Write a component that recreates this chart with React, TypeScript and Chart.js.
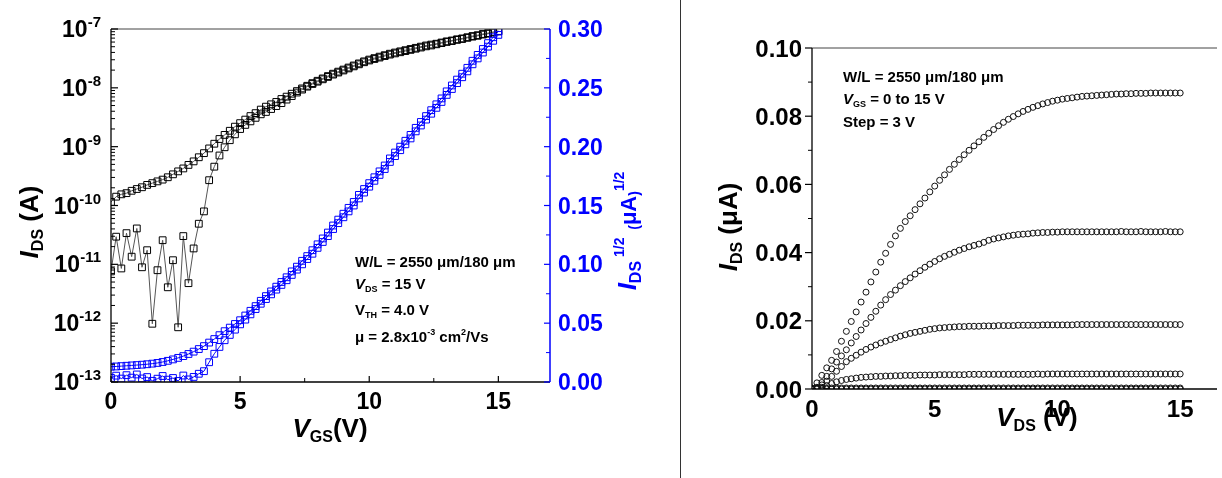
import React, { useEffect, useRef } from "react";
import { Chart, registerables } from "chart.js";

Chart.register(...registerables);

const FAMILY = '"Liberation Sans", Arial, Helvetica, sans-serif';
const BLUE = "#0000ff";

// ---------------- Transfer curve (left panel) ----------------
const vgs = [
  0, 0.2, 0.4, 0.6, 0.8, 1, 1.2, 1.4, 1.6, 1.8,
  2, 2.2, 2.4, 2.6, 2.8, 3, 3.2, 3.4, 3.6, 3.8,
  4, 4.2, 4.4, 4.6, 4.8, 5, 5.2, 5.4, 5.6, 5.8,
  6, 6.2, 6.4, 6.6, 6.8, 7, 7.2, 7.4, 7.6, 7.8,
  8, 8.2, 8.4, 8.6, 8.8, 9, 9.2, 9.4, 9.6, 9.8,
  10, 10.2, 10.4, 10.6, 10.8, 11, 11.2, 11.4, 11.6, 11.8,
  12, 12.2, 12.4, 12.6, 12.8, 13, 13.2, 13.4, 13.6, 13.8,
  14, 14.2, 14.4, 14.6, 14.8, 15,
];

// log10(I_DS / A), upper (smooth) branch
const logIdsForward = [
  -9.94, -9.85, -9.81, -9.79, -9.75, -9.72, -9.69, -9.65, -9.62, -9.59,
  -9.56, -9.52, -9.47, -9.42, -9.37, -9.31, -9.25, -9.18, -9.11, -9.03,
  -8.95, -8.87, -8.8, -8.73, -8.66, -8.6, -8.54, -8.48, -8.43, -8.37,
  -8.32, -8.28, -8.24, -8.19, -8.15, -8.1, -8.055, -8.01, -7.965, -7.92,
  -7.88, -7.84, -7.8, -7.76, -7.725, -7.69, -7.655, -7.62, -7.585, -7.55,
  -7.52, -7.495, -7.47, -7.445, -7.42, -7.4, -7.38, -7.36, -7.34, -7.32,
  -7.3, -7.28, -7.265, -7.25, -7.23, -7.21, -7.195, -7.175, -7.16, -7.14,
  -7.12, -7.105, -7.085, -7.07, -7.05, -7.035,
];

// log10(I_DS / A), lower (noisy) branch
const logIdsReverse = [
  -11.12, -10.53, -11.07, -10.47, -10.87, -10.39, -11.05, -10.76, -12.01, -11.1,
  -10.59, -11.39, -10.93, -12.07, -10.52, -11.32, -10.73, -10.31, -10.1, -9.57,
  -9.34, -9.15, -9.01, -8.89, -8.79, -8.7, -8.63, -8.57, -8.51, -8.45,
  -8.41, -8.36, -8.31, -8.26, -8.2, -8.14, -8.08, -8.03, -7.98, -7.935,
  -7.895, -7.855, -7.815, -7.775, -7.74, -7.705, -7.67, -7.635, -7.6, -7.565,
  -7.535, -7.51, -7.485, -7.46, -7.435, -7.415, -7.395, -7.375, -7.355, -7.335,
  -7.315, -7.295, -7.28, -7.26, -7.24, -7.22, -7.205, -7.185, -7.17, -7.15,
  -7.13, -7.115, -7.095, -7.08, -7.06, -7.04,
];

// I_DS^(1/2) in uA^(1/2)
const sqrtIdsForward = [
  0.013, 0.0132, 0.0135, 0.0138, 0.0141, 0.0144, 0.0147, 0.0151, 0.0156, 0.0162,
  0.017, 0.018, 0.0192, 0.0205, 0.022, 0.0238, 0.0258, 0.028, 0.0305, 0.0335,
  0.0365, 0.0398, 0.0432, 0.0462, 0.0493, 0.0525, 0.0565, 0.0605, 0.0645, 0.069,
  0.073, 0.077, 0.081, 0.085, 0.089, 0.094, 0.098, 0.103, 0.107, 0.112,
  0.117, 0.122, 0.127, 0.133, 0.138, 0.143, 0.148, 0.153, 0.159, 0.164,
  0.169, 0.174, 0.179, 0.184, 0.19, 0.195, 0.2, 0.205, 0.21, 0.216,
  0.221, 0.226, 0.231, 0.236, 0.241, 0.247, 0.252, 0.257, 0.262, 0.267,
  0.273, 0.278, 0.283, 0.288, 0.293, 0.298,
];

const sqrtIdsReverse = [
  0.0035, 0.0054, 0.0029, 0.0058, 0.0037, 0.0064, 0.003, 0.0042, 0.001, 0.0028,
  0.0051, 0.002, 0.0034, 0.0009, 0.0055, 0.0022, 0.0043, 0.007, 0.0092, 0.0168,
  0.024, 0.0298, 0.0355, 0.04, 0.0445, 0.049, 0.053, 0.0575, 0.062, 0.0665,
  0.0705, 0.0745, 0.0785, 0.0825, 0.0865, 0.091, 0.0955, 0.1, 0.1045, 0.109,
  0.114, 0.119, 0.124, 0.13, 0.135, 0.14, 0.145, 0.15, 0.156, 0.161,
  0.166, 0.171, 0.176, 0.181, 0.187, 0.192, 0.197, 0.202, 0.207, 0.213,
  0.218, 0.223, 0.228, 0.233, 0.238, 0.244, 0.249, 0.254, 0.259, 0.264,
  0.27, 0.275, 0.28, 0.285, 0.29, 0.295,
];

const logTickPowers = [-13, -12, -11, -10, -9, -8, -7];
const vgsTicks = [0, 5, 10, 15];
const vgsMinorTicks = [2.5, 7.5, 12.5];
const sqrtTicks = [0, 0.05, 0.1, 0.15, 0.2, 0.25, 0.3];
const sqrtTickLabels = ["0.00", "0.05", "0.10", "0.15", "0.20", "0.25", "0.30"];
const sqrtMinorTicks = [0.025, 0.075, 0.125, 0.175, 0.225, 0.275];

// ---------------- Output curves (right panel) ----------------
const vds = [
  0, 0.2, 0.4, 0.6, 0.8, 1, 1.2, 1.4, 1.6, 1.8,
  2, 2.2, 2.4, 2.6, 2.8, 3, 3.2, 3.4, 3.6, 3.8,
  4, 4.2, 4.4, 4.6, 4.8, 5, 5.2, 5.4, 5.6, 5.8,
  6, 6.2, 6.4, 6.6, 6.8, 7, 7.2, 7.4, 7.6, 7.8,
  8, 8.2, 8.4, 8.6, 8.8, 9, 9.2, 9.4, 9.6, 9.8,
  10, 10.2, 10.4, 10.6, 10.8, 11, 11.2, 11.4, 11.6, 11.8,
  12, 12.2, 12.4, 12.6, 12.8, 13, 13.2, 13.4, 13.6, 13.8,
  14, 14.2, 14.4, 14.6, 14.8, 15,
];

const ids15 = [
  0.0003, 0.0018, 0.004, 0.0062, 0.0084, 0.011, 0.014, 0.0169, 0.0198, 0.0226,
  0.0255, 0.0284, 0.0314, 0.0343, 0.0372, 0.0398, 0.0424, 0.0449, 0.0471, 0.0491,
  0.0508, 0.0526, 0.0543, 0.056, 0.0578, 0.0595, 0.0612, 0.0628, 0.0644, 0.0659,
  0.0673, 0.0687, 0.07, 0.0713, 0.0725, 0.0738, 0.075, 0.0761, 0.0772, 0.0782,
  0.0791, 0.0799, 0.0807, 0.0814, 0.082, 0.0826, 0.0831, 0.0836, 0.084, 0.0844,
  0.0847, 0.085, 0.0852, 0.0854, 0.0856, 0.0858, 0.0859, 0.086, 0.0861, 0.0862,
  0.0863, 0.0864, 0.0865, 0.0865, 0.0866, 0.0866, 0.0867, 0.0867, 0.0867, 0.0868,
  0.0868, 0.0868, 0.0868, 0.0868, 0.0868, 0.0868,
];

const ids12 = [
  0.0001, 0.0005, 0.0019, 0.0037, 0.0059, 0.0079, 0.0097, 0.0115, 0.0135, 0.0154,
  0.0173, 0.0192, 0.021, 0.0228, 0.0246, 0.0262, 0.0277, 0.029, 0.0303, 0.0315,
  0.0326, 0.0337, 0.0347, 0.0357, 0.0366, 0.0374, 0.0382, 0.0389, 0.0395, 0.0401,
  0.0407, 0.0412, 0.0417, 0.0421, 0.0425, 0.043, 0.0436, 0.044, 0.0443, 0.0446,
  0.0449, 0.0451, 0.0453, 0.0454, 0.0455, 0.0457, 0.0458, 0.0459, 0.0459, 0.046,
  0.046, 0.0461, 0.0461, 0.0461, 0.0461, 0.0461, 0.0461, 0.0461, 0.0461, 0.0461,
  0.0461, 0.0461, 0.0461, 0.0462, 0.0461, 0.0461, 0.0461, 0.0462, 0.0461, 0.0461,
  0.0461, 0.0461, 0.0462, 0.0461, 0.0461, 0.0461,
];

const ids9 = [
  0.0, 0.0003, 0.0012, 0.0023, 0.0037, 0.0052, 0.0066, 0.008, 0.009, 0.0099,
  0.0108, 0.0116, 0.0123, 0.0129, 0.0135, 0.014, 0.0145, 0.015, 0.0155, 0.0159,
  0.0163, 0.0166, 0.0169, 0.0172, 0.0175, 0.0177, 0.0179, 0.018, 0.0181, 0.0182,
  0.0183, 0.0183, 0.0184, 0.0184, 0.0184, 0.0185, 0.0185, 0.0185, 0.0186, 0.0186,
  0.0186, 0.0186, 0.0187, 0.0187, 0.0187, 0.0187, 0.0187, 0.0188, 0.0188, 0.0188,
  0.0188, 0.0188, 0.0188, 0.0188, 0.0189, 0.0189, 0.0189, 0.0189, 0.0189, 0.0189,
  0.0189, 0.0189, 0.0189, 0.0189, 0.0189, 0.0189, 0.0189, 0.0189, 0.0189, 0.0189,
  0.0189, 0.0189, 0.0189, 0.0189, 0.0189, 0.0189,
];

const ids6 = [
  0.0, 0.0002, 0.0005, 0.001, 0.0016, 0.0021, 0.0025, 0.0028, 0.003, 0.0032,
  0.0034, 0.0035, 0.0036, 0.0037, 0.0037, 0.0038, 0.0038, 0.0039, 0.0039, 0.004,
  0.004, 0.004, 0.0041, 0.0041, 0.0041, 0.0041, 0.0042, 0.0042, 0.0042, 0.0042,
  0.0042, 0.0042, 0.0043, 0.0043, 0.0043, 0.0043, 0.0043, 0.0043, 0.0043, 0.0043,
  0.0043, 0.0043, 0.0043, 0.0043, 0.0043, 0.0043, 0.0044, 0.0043, 0.0044, 0.0044,
  0.0044, 0.0044, 0.0044, 0.0044, 0.0044, 0.0044, 0.0044, 0.0044, 0.0044, 0.0044,
  0.0044, 0.0044, 0.0044, 0.0044, 0.0044, 0.0044, 0.0044, 0.0044, 0.0044, 0.0044,
  0.0044, 0.0044, 0.0044, 0.0044, 0.0044, 0.0044,
];

const ids3 = [
  0.0, 0.0001, 0.0002, 0.0002, 0.0003, 0.0003, 0.0003, 0.0003, 0.0003, 0.0003,
  0.0003, 0.0003, 0.0003, 0.0003, 0.0003, 0.0003, 0.0003, 0.0003, 0.0003, 0.0003,
  0.0003, 0.0003, 0.0003, 0.0003, 0.0003, 0.0003, 0.0003, 0.0003, 0.0003, 0.0003,
  0.0003, 0.0003, 0.0003, 0.0003, 0.0003, 0.0003, 0.0003, 0.0003, 0.0003, 0.0003,
  0.0003, 0.0003, 0.0003, 0.0003, 0.0003, 0.0003, 0.0003, 0.0003, 0.0003, 0.0003,
  0.0003, 0.0003, 0.0003, 0.0003, 0.0003, 0.0003, 0.0003, 0.0003, 0.0003, 0.0003,
  0.0003, 0.0003, 0.0003, 0.0003, 0.0003, 0.0003, 0.0003, 0.0003, 0.0003, 0.0003,
  0.0003, 0.0003, 0.0003, 0.0003, 0.0003, 0.0003,
];

const ids0 = [
  0, 0, 0, 0, 0, 0, 0, 0, 0, 0,
  0, 0, 0, 0, 0, 0, 0, 0, 0, 0,
  0, 0, 0, 0, 0, 0, 0, 0, 0, 0,
  0, 0, 0, 0, 0, 0, 0, 0, 0, 0,
  0, 0, 0, 0, 0, 0, 0, 0, 0, 0,
  0, 0, 0, 0, 0, 0, 0, 0, 0, 0,
  0, 0, 0, 0, 0, 0, 0, 0, 0, 0,
  0, 0, 0, 0, 0, 0,
];

const outTicks = [0, 0.02, 0.04, 0.06, 0.08, 0.1];
const outTickLabels = ["0.00", "0.02", "0.04", "0.06", "0.08", "0.10"];
const outMinorTicks = [0.01, 0.03, 0.05, 0.07, 0.09];
const vdsTicks = [0, 5, 10, 15];

// ---------------- drawing helpers ----------------
type Seg = { t: string; size: number; italic?: boolean; dy?: number };

function segFont(s: Seg) {
  return `${s.italic ? "italic " : ""}bold ${s.size}px ${FAMILY}`;
}

function drawSegs(
  ctx: CanvasRenderingContext2D,
  segs: Seg[],
  x: number,
  y: number,
  align: "left" | "center" | "right",
  color: string
) {
  ctx.save();
  ctx.fillStyle = color;
  ctx.textBaseline = "alphabetic";
  ctx.textAlign = "left";
  let w = 0;
  for (const s of segs) {
    ctx.font = segFont(s);
    w += ctx.measureText(s.t).width;
  }
  let cx = align === "center" ? x - w / 2 : align === "right" ? x - w : x;
  for (const s of segs) {
    ctx.font = segFont(s);
    ctx.fillText(s.t, cx, y + (s.dy || 0));
    cx += ctx.measureText(s.t).width;
  }
  ctx.restore();
}

function drawSegsRotated(
  ctx: CanvasRenderingContext2D,
  segs: Seg[],
  baselineX: number,
  centerY: number,
  color: string
) {
  ctx.save();
  ctx.translate(baselineX, centerY);
  ctx.rotate(-Math.PI / 2);
  drawSegs(ctx, segs, 0, 0, "center", color);
  ctx.restore();
}

function seg(
  ctx: CanvasRenderingContext2D,
  x1: number,
  y1: number,
  x2: number,
  y2: number,
  color: string,
  width: number
) {
  ctx.save();
  ctx.strokeStyle = color;
  ctx.lineWidth = width;
  ctx.beginPath();
  ctx.moveTo(x1, y1);
  ctx.lineTo(x2, y2);
  ctx.stroke();
  ctx.restore();
}

// ---------------- plugins ----------------
const transferDecor = {
  id: "transferDecor",
  afterDatasetsDraw(chart: any) {
    const { ctx, chartArea: a, scales } = chart;
    const xs = scales.x;
    const yl = scales.yLog;
    const ys = scales.ySqrt;

    seg(ctx, a.left, a.top, a.right, a.top, "#444", 1);
    seg(ctx, a.left, a.bottom, a.right, a.bottom, "#000", 1.3);
    seg(ctx, a.left, a.top, a.left, a.bottom, "#000", 1.3);
    seg(ctx, a.right, a.top, a.right, a.bottom, BLUE, 1.5);

    // log axis ticks + labels
    logTickPowers.forEach((p) => {
      const y = yl.getPixelForValue(Math.pow(10, p));
      seg(ctx, a.left, y, a.left + 7, y, "#000", 1.2);
      if (p < -7) {
        for (let m = 2; m <= 9; m++) {
          const ym = yl.getPixelForValue(m * Math.pow(10, p));
          seg(ctx, a.left, ym, a.left + 4, ym, "#000", 1);
        }
      }
      drawSegs(
        ctx,
        [
          { t: "10", size: 23 },
          { t: String(p), size: 15, dy: -10 },
        ],
        a.left - 10,
        y + 8,
        "right",
        "#000"
      );
    });

    // x axis ticks + labels
    vgsTicks.forEach((v) => {
      const x = xs.getPixelForValue(v);
      seg(ctx, x, a.bottom, x, a.bottom - 6, "#000", 1.2);
      drawSegs(ctx, [{ t: String(v), size: 23 }], x, 409, "center", "#000");
    });
    vgsMinorTicks.forEach((v) => {
      const x = xs.getPixelForValue(v);
      seg(ctx, x, a.bottom, x, a.bottom - 4, "#000", 1);
    });

    // right blue axis
    sqrtTicks.forEach((v, i) => {
      const y = ys.getPixelForValue(v);
      seg(ctx, a.right, y, a.right - 6, y, BLUE, 1.2);
      drawSegs(ctx, [{ t: sqrtTickLabels[i], size: 23 }], a.right + 8, y + 8, "left", BLUE);
    });
    sqrtMinorTicks.forEach((v) => {
      const y = ys.getPixelForValue(v);
      seg(ctx, a.right, y, a.right - 4, y, BLUE, 1);
    });

    // axis titles
    drawSegsRotated(
      ctx,
      [
        { t: "I", size: 26, italic: true },
        { t: "DS", size: 16, dy: 5 },
        { t: " (A)", size: 26 },
      ],
      38,
      222,
      "#000"
    );
    drawSegs(
      ctx,
      [
        { t: "V", size: 26, italic: true },
        { t: "GS", size: 16, dy: 5 },
        { t: "(V)", size: 26 },
      ],
      330,
      437,
      "center",
      "#000"
    );
    drawSegsRotated(
      ctx,
      [
        { t: "I", size: 26, italic: true },
        { t: "DS", size: 16, dy: 5 },
        { t: " 1/2", size: 14, dy: -12 },
        { t: "  ", size: 14 },
        { t: "(", size: 14, dy: 3 },
        { t: "\u03bcA", size: 22 },
        { t: ")", size: 14, dy: 3 },
        { t: "1/2", size: 14, dy: -12 },
      ],
      636,
      231,
      BLUE
    );

    // annotations
    const ax = 355;
    drawSegs(ctx, [{ t: "W/L = 2550 \u03bcm/180 \u03bcm", size: 15 }], ax, 266.5, "left", "#000");
    drawSegs(
      ctx,
      [
        { t: "V", size: 15, italic: true },
        { t: "DS", size: 9, dy: 3 },
        { t: " = 15 V", size: 15 },
      ],
      ax,
      288.5,
      "left",
      "#000"
    );
    drawSegs(
      ctx,
      [
        { t: "V", size: 15 },
        { t: "TH", size: 9, dy: 3 },
        { t: " = 4.0 V", size: 15 },
      ],
      ax,
      315,
      "left",
      "#000"
    );
    drawSegs(
      ctx,
      [
        { t: "\u03bc = 2.8x10", size: 15 },
        { t: "-3", size: 9, dy: -7 },
        { t: " cm", size: 15 },
        { t: "2", size: 9, dy: -7 },
        { t: "/Vs", size: 15 },
      ],
      ax,
      341.5,
      "left",
      "#000"
    );
  },
};

const outputDecor = {
  id: "outputDecor",
  afterDatasetsDraw(chart: any) {
    const { ctx, chartArea: a, scales } = chart;
    const xs = scales.x;
    const ys = scales.y;

    seg(ctx, a.left, a.top, a.right, a.top, "#444", 1);
    seg(ctx, a.left, a.bottom, a.right, a.bottom, "#000", 1.3);
    seg(ctx, a.left, a.top, a.left, a.bottom, "#000", 1.3);

    outTicks.forEach((v, i) => {
      const y = ys.getPixelForValue(v);
      seg(ctx, a.left - 7, y, a.left, y, "#000", 1.2);
      drawSegs(ctx, [{ t: outTickLabels[i], size: 24 }], a.left - 10, y + 8.5, "right", "#000");
    });
    outMinorTicks.forEach((v) => {
      const y = ys.getPixelForValue(v);
      seg(ctx, a.left - 4, y, a.left, y, "#000", 1);
    });
    vdsTicks.forEach((v) => {
      const x = xs.getPixelForValue(v);
      drawSegs(ctx, [{ t: String(v), size: 24 }], x, 417, "center", "#000");
    });

    drawSegsRotated(
      ctx,
      [
        { t: "I", size: 26, italic: true },
        { t: "DS", size: 16, dy: 5 },
        { t: " (\u03bcA)", size: 26 },
      ],
      55,
      227,
      "#000"
    );
    drawSegs(
      ctx,
      [
        { t: "V", size: 26, italic: true },
        { t: "DS", size: 16, dy: 5 },
        { t: " (V)", size: 26 },
      ],
      355,
      426,
      "center",
      "#000"
    );

    const ax = 161;
    drawSegs(ctx, [{ t: "W/L = 2550 \u03bcm/180 \u03bcm", size: 15 }], ax, 81.5, "left", "#000");
    drawSegs(
      ctx,
      [
        { t: "V", size: 15, italic: true },
        { t: "GS", size: 9, dy: 3 },
        { t: " = 0 to 15 V", size: 15 },
      ],
      ax,
      103.5,
      "left",
      "#000"
    );
    drawSegs(ctx, [{ t: "Step = 3 V", size: 15 }], ax, 126.5, "left", "#000");
  },
};

// ---------------- chart configs ----------------
function pts(xs: number[], ys: number[], f?: (v: number) => number) {
  return xs.map((x, i) => ({ x, y: f ? f(ys[i]) : ys[i] }));
}

function transferConfig(): any {
  const black = {
    showLine: true,
    borderColor: "#555",
    borderWidth: 1,
    pointStyle: "rect",
    pointRadius: 4.8,
    pointBorderColor: "#000",
    pointBackgroundColor: "rgba(255,255,255,0)",
    pointBorderWidth: 1,
    yAxisID: "yLog",
  };
  const blue = {
    showLine: true,
    borderColor: BLUE,
    borderWidth: 1,
    pointStyle: "rect",
    pointRadius: 4.8,
    pointBorderColor: BLUE,
    pointBackgroundColor: "rgba(255,255,255,0)",
    pointBorderWidth: 1,
    yAxisID: "ySqrt",
  };
  return {
    type: "scatter",
    data: {
      datasets: [
        { ...blue, label: "sqrt fwd", data: pts(vgs, sqrtIdsForward) },
        { ...blue, label: "sqrt rev", data: pts(vgs, sqrtIdsReverse) },
        { ...black, label: "log fwd", data: pts(vgs, logIdsForward, (v) => Math.pow(10, v)) },
        { ...black, label: "log rev", data: pts(vgs, logIdsReverse, (v) => Math.pow(10, v)) },
      ],
    },
    options: {
      responsive: false,
      maintainAspectRatio: false,
      animation: false,
      events: [],
      layout: { padding: { left: 111, top: 29, right: 130, bottom: 96 } },
      plugins: { legend: { display: false }, tooltip: { enabled: false } },
      scales: {
        x: { type: "linear", min: 0, max: 17, display: false },
        yLog: { type: "logarithmic", min: 1e-13, max: 1e-7, display: false },
        ySqrt: { type: "linear", min: 0, max: 0.3, display: false, position: "right" },
      },
    },
    plugins: [transferDecor],
  };
}

function outputConfig(): any {
  const circ = {
    showLine: false,
    pointStyle: "circle",
    pointRadius: 3,
    pointBorderColor: "#111",
    pointBackgroundColor: "rgba(255,255,255,0)",
    pointBorderWidth: 1,
  };
  return {
    type: "scatter",
    data: {
      datasets: [
        { ...circ, label: "VGS 15 V", data: pts(vds, ids15) },
        { ...circ, label: "VGS 12 V", data: pts(vds, ids12) },
        { ...circ, label: "VGS 9 V", data: pts(vds, ids9) },
        { ...circ, label: "VGS 6 V", data: pts(vds, ids6) },
        { ...circ, label: "VGS 3 V", data: pts(vds, ids3) },
        { ...circ, label: "VGS 0 V", data: pts(vds, ids0) },
      ],
    },
    options: {
      responsive: false,
      maintainAspectRatio: false,
      animation: false,
      events: [],
      layout: { padding: { left: 130, top: 48, right: 0, bottom: 89 } },
      plugins: { legend: { display: false }, tooltip: { enabled: false } },
      scales: {
        x: { type: "linear", min: 0, max: 16.5, display: false },
        y: { type: "linear", min: 0, max: 0.1, display: false },
      },
    },
    plugins: [outputDecor],
  };
}

function ChartCanvas(props: { make: () => any; left: number; width: number; height: number }) {
  const ref = useRef<HTMLCanvasElement>(null);
  useEffect(() => {
    const chart = new Chart(ref.current as HTMLCanvasElement, props.make());
    return () => chart.destroy();
  }, []);
  return (
    <canvas
      ref={ref}
      width={props.width}
      height={props.height}
      style={{
        position: "absolute",
        left: props.left,
        top: 0,
        width: props.width,
        height: props.height,
      }}
    />
  );
}

export default function App() {
  return (
    <div
      style={{
        position: "fixed",
        left: 0,
        top: 0,
        width: 1222,
        height: 478,
        background: "#fff",
        overflow: "hidden",
      }}
    >
      <ChartCanvas make={transferConfig} left={0} width={680} height={478} />
      <div
        style={{
          position: "absolute",
          left: 680,
          top: 0,
          width: 1,
          height: 478,
          background: "#333",
        }}
      />
      <ChartCanvas make={outputConfig} left={682} width={540} height={478} />
    </div>
  );
}
